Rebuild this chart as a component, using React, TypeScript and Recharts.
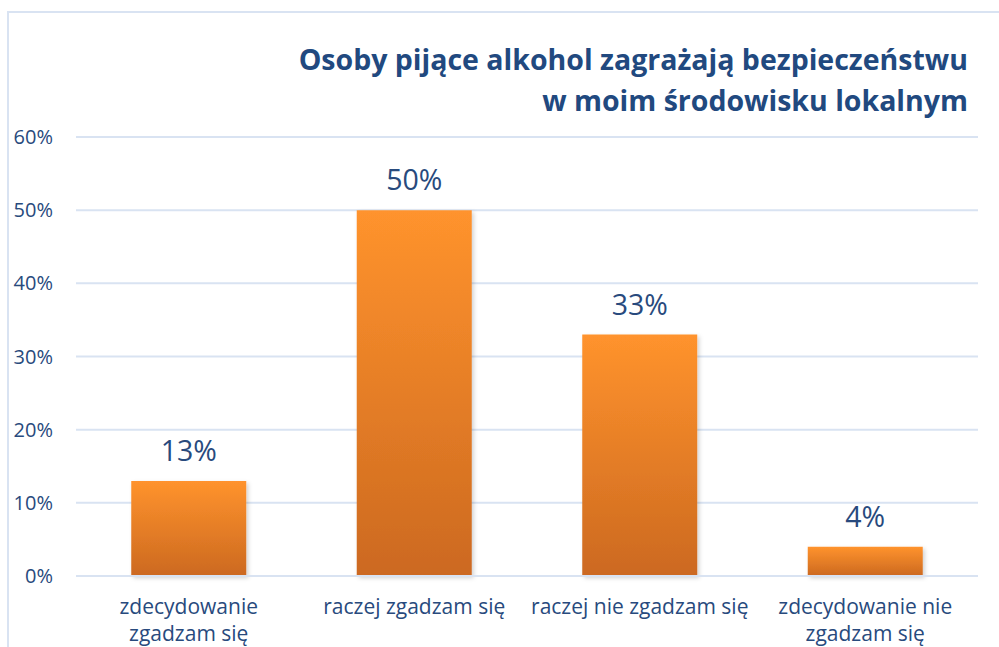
import React from "react";
import { BarChart, Bar, XAxis, YAxis, CartesianGrid, LabelList } from "recharts";

const categories = [
  "zdecydowanie\nzgadzam się",
  "raczej zgadzam się",
  "raczej nie zgadzam się",
  "zdecydowanie nie\nzgadzam się",
];
const values = [0.13, 0.5, 0.33, 0.04];
const yTicks = [0, 0.1, 0.2, 0.3, 0.4, 0.5, 0.6];
const titleLines = [
  "Osoby pijące alkohol zagrażają bezpieczeństwu",
  "w moim środowisku lokalnym",
];

const data = categories.map((c, i) => ({ name: c, value: values[i] }));

const FONT = "'Open Sans', 'Noto Sans', sans-serif";
const TEXT = "#284a7d";
const GRID = "#d9e3f2";

const pct = (v: number) => `${Math.round(v * 100)}%`;

const CatTick = (props: any) => {
  const { x, y, payload } = props;
  const lines = String(payload.value).split("\n");
  return (
    <text x={x} y={y} textAnchor="middle" fill={TEXT} fontFamily={FONT} fontSize={21}>
      {lines.map((l: string, i: number) => (
        <tspan key={i} x={x} dy={i === 0 ? 30 : 27}>
          {l}
        </tspan>
      ))}
    </text>
  );
};

export default function App() {
  return (
    <div style={{ position: "fixed", left: 0, top: 0, width: 999, height: 647, background: "#fff", overflow: "hidden" }}>
      <div
        style={{
          position: "absolute",
          left: 7,
          top: 11,
          width: 1100,
          height: 800,
          borderLeft: `2px solid ${GRID}`,
          borderTop: `2px solid ${GRID}`,
        }}
      />
      <div
        style={{
          position: "absolute",
          right: 31,
          top: 39,
          textAlign: "right",
          fontFamily: FONT,
          fontWeight: 700,
          fontSize: 28.5,
          lineHeight: "41px",
          color: "#21497f",
          whiteSpace: "nowrap",
        }}
      >
        {titleLines.map((t, i) => (
          <div key={i}>{t}</div>
        ))}
      </div>
      <div style={{ position: "absolute", left: 0, top: 0 }}>
        <BarChart
          width={999}
          height={647}
          data={data}
          margin={{ top: 137, right: 21, bottom: 0, left: 0 }}
          barCategoryGap="24.5%"
        >
          <defs>
            <linearGradient id="barGrad" x1="0" y1="0" x2="0" y2="1">
              <stop offset="0%" stopColor="#ff932d" />
              <stop offset="100%" stopColor="#cc6920" />
            </linearGradient>
            <filter id="shadow" x="-10%" y="-10%" width="130%" height="130%">
              <feDropShadow dx="2" dy="2" stdDeviation="2" floodColor="#000" floodOpacity="0.18" />
            </filter>
          </defs>
          <CartesianGrid vertical={false} stroke={GRID} strokeWidth={2} />
          <XAxis
            dataKey="name"
            height={71}
            axisLine={{ stroke: GRID, strokeWidth: 2 }}
            tickLine={false}
            tick={<CatTick />}
            interval={0}
          />
          <YAxis
            width={76}
            domain={[0, 0.6]}
            ticks={yTicks}
            tickFormatter={pct}
            axisLine={false}
            tickLine={false}
            tickSize={0}
            tickMargin={23}
            tick={{ fill: TEXT, fontFamily: FONT, fontSize: 20 }}
          />
          <Bar dataKey="value" fill="url(#barGrad)" isAnimationActive={false} filter="url(#shadow)">
            <LabelList
              dataKey="value"
              position="top"
              offset={20}
              formatter={(v: any) => pct(Number(v))}
              fill={TEXT}
              fontFamily={FONT}
              fontSize={28.5}
            />
          </Bar>
        </BarChart>
      </div>
    </div>
  );
}
